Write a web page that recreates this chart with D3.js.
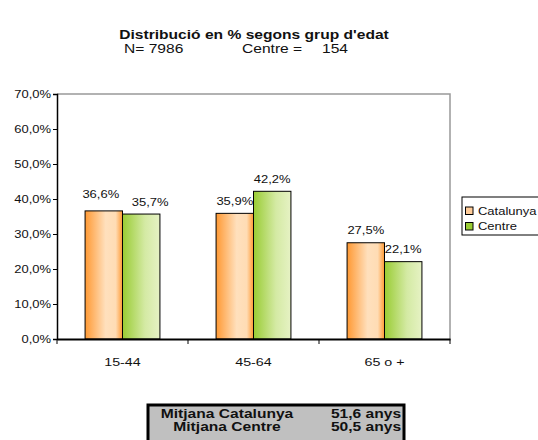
<!DOCTYPE html>
<html>
<head>
<meta charset="utf-8">
<script src="https://cdn.jsdelivr.net/npm/d3@7"></script>
<style>
  body { margin: 0; background: #fff; }
  svg { font-family: "Liberation Sans", Arial, sans-serif; }
</style>
</head>
<body>
<svg id="chart" width="538" height="440"></svg>
<script>
// data
const groups = ['15-44', '45-64', '65 o +'];
const seriesNames = ['Catalunya', 'Centre'];
const catalunya = [36.6, 35.9, 27.5];
const centre = [35.7, 42.2, 22.1];
const yTicks = [0, 10, 20, 30, 40, 50, 60, 70];
const summaryLabels = ['Mitjana Catalunya', 'Mitjana Centre'];
const summaryValues = ['51,6 anys', '50,5 anys'];

const svg = d3.select('#chart');
const fmt = (v) => v.toFixed(1).replace('.', ',') + '%';
const SX = 1.3; // the original text is drawn wide

// write a text stretched horizontally around its anchor point
function wide(sel, x, y, txt, size, anchor, bold) {
  return sel.append('text')
    .attr('transform', `translate(${x},${y}) scale(${SX},1)`)
    .attr('text-anchor', anchor || 'start')
    .attr('font-size', size)
    .attr('font-weight', bold ? 'bold' : 'normal')
    .attr('fill', '#111')
    .text(txt);
}

// plot area box
const plotL = 57, plotR = 450, plotT = 94, plotB = 339;

const x = d3.scaleBand().domain(groups).range([plotL, plotR]);
const xInner = d3.scaleBand().domain(seriesNames).range([0, x.bandwidth()]).paddingOuter(0.75);
const y = d3.scaleLinear().domain([0, 70]).range([plotB, plotT]);

// gradients for the bars
const defs = svg.append('defs');
const go = defs.append('linearGradient').attr('id', 'gOrange')
  .attr('x1', '0%').attr('x2', '100%').attr('y1', '0%').attr('y2', '0%');
go.append('stop').attr('offset', '0%').attr('stop-color', '#ff9933');
go.append('stop').attr('offset', '55%').attr('stop-color', '#ffe0bd');
go.append('stop').attr('offset', '82%').attr('stop-color', '#ffdcb4');
go.append('stop').attr('offset', '100%').attr('stop-color', '#ff9933');
const gg = defs.append('linearGradient').attr('id', 'gGreen')
  .attr('x1', '0%').attr('x2', '100%').attr('y1', '0%').attr('y2', '0%');
gg.append('stop').attr('offset', '0%').attr('stop-color', '#99cc33');
gg.append('stop').attr('offset', '60%').attr('stop-color', '#d4eaa4');
gg.append('stop').attr('offset', '100%').attr('stop-color', '#e6f2c4');
const fills = { Catalunya: 'url(#gOrange)', Centre: 'url(#gGreen)' };

// title
wide(svg, 254, 39, "Distribució en % segons grup d'edat", 12, 'middle', true);
wide(svg, 124, 53, 'N= 7986', 12);
wide(svg, 242, 53, 'Centre =', 12);
wide(svg, 322, 53, '154', 12);

// gray frame on top and right
svg.append('path').attr('d', `M${plotL},${plotT}H${plotR}V${plotB}`)
  .attr('fill', 'none').attr('stroke', '#999').attr('stroke-width', 1.5);

// bars
const rows = groups.map((g, i) => ({ g, vals: [catalunya[i], centre[i]] }));
const grp = svg.selectAll('g.grp').data(rows).join('g')
  .attr('class', 'grp').attr('transform', (d) => `translate(${x(d.g)},0)`);
grp.selectAll('rect').data((d) => d.vals.map((v, j) => ({ s: seriesNames[j], v })))
  .join('rect')
  .attr('x', (d) => xInner(d.s))
  .attr('width', xInner.bandwidth())
  .attr('y', (d) => y(d.v))
  .attr('height', (d) => plotB - y(d.v))
  .attr('fill', (d) => fills[d.s])
  .attr('stroke', '#000').attr('stroke-width', 1);

// value labels; when the two labels of a group would collide, spread them apart
grp.each(function (d) {
  const g = d3.select(this);
  const close = Math.abs(y(d.vals[0]) - y(d.vals[1])) < 12;
  d.vals.forEach((v, j) => {
    const s = seriesNames[j];
    let lx = xInner(s) + xInner.bandwidth() / 2;
    let ly = y(v) - 8.5;
    if (close) {
      lx += j === 0 ? -3 : 9;
      if (v === d3.max(d.vals)) ly -= 4;
    }
    wide(g, lx, ly, fmt(v), 10, 'middle');
  });
});

// y axis
const yAxis = d3.axisLeft(y).tickValues(yTicks).tickSize(4).tickPadding(2)
  .tickFormat((d) => d.toFixed(1).replace('.', ',') + '%');
svg.append('g').attr('transform', `translate(${plotL},0)`).call(yAxis)
  .call((g) => g.selectAll('text').attr('font-size', 10).attr('fill', '#111')
    .attr('transform', `scale(${SX},1)`).attr('x', -6 / SX))
  .call((g) => g.select('.domain').attr('stroke', '#000').attr('stroke-width', 1.5));

// x axis with ticks between categories
const xAxis = d3.axisBottom(x).tickSize(0).tickPadding(19);
const xg = svg.append('g').attr('transform', `translate(0,${plotB})`).call(xAxis);
xg.selectAll('text').attr('font-size', 11).attr('fill', '#111')
  .attr('transform', `scale(${SX},1)`);
xg.select('.domain').attr('stroke', '#000').attr('stroke-width', 2);
xg.selectAll('line.sep').data(groups.concat(['end'])).join('line').attr('class', 'sep')
  .attr('x1', (d, i) => plotL + i * x.bandwidth()).attr('x2', (d, i) => plotL + i * x.bandwidth())
  .attr('y1', 0).attr('y2', 5).attr('stroke', '#000');

// legend
const lg = svg.append('g').attr('transform', 'translate(462,197)');
lg.append('rect').attr('width', 90).attr('height', 38).attr('fill', '#fff').attr('stroke', '#000');
const legFill = { Catalunya: '#ffcc99', Centre: '#99cc33' };
seriesNames.forEach((s, i) => {
  lg.append('rect').attr('x', 3.5).attr('y', 10 + i * 15.5).attr('width', 7.5).attr('height', 7.5)
    .attr('fill', legFill[s]).attr('stroke', '#000');
  wide(lg, 16, 17.5 + i * 15.5, s, 10);
});

// summary table
const tb = svg.append('g').attr('transform', 'translate(148,405)');
tb.append('rect').attr('width', 256).attr('height', 40).attr('fill', '#c0c0c0')
  .attr('stroke', '#000').attr('stroke-width', 3);
summaryLabels.forEach((t, i) => {
  wide(tb, 79, 13 + i * 13, t, 12, 'middle', true);
  wide(tb, 218, 13 + i * 13, summaryValues[i], 12, 'middle', true);
});
</script>
</body>
</html>
